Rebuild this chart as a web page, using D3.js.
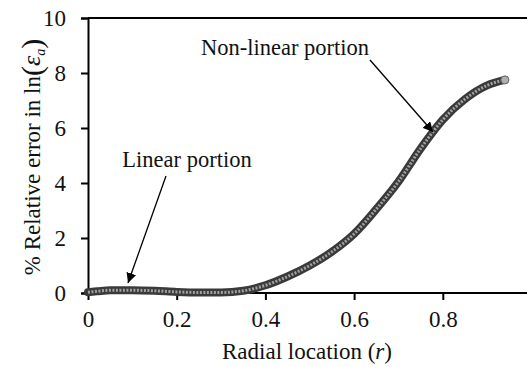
<!DOCTYPE html>
<html>
<head>
<meta charset="utf-8">
<script src="https://cdn.jsdelivr.net/npm/d3@7"></script>
<style>
  body { margin: 0; background: #fff; }
  svg { display: block; font-family: "Liberation Serif", "Times New Roman", serif; }
</style>
</head>
<body>
<svg id="chart" width="527" height="367"></svg>
<script>
// radial location r and % relative error
const radial = [0.0, 0.02, 0.05, 0.1, 0.15, 0.2, 0.25, 0.3, 0.35, 0.4, 0.45, 0.5, 0.55, 0.6, 0.65, 0.7, 0.75, 0.8, 0.85, 0.9, 0.94];
const relError = [0.03, 0.06, 0.1, 0.1, 0.08, 0.04, 0.02, 0.02, 0.08, 0.28, 0.6, 1.0, 1.5, 2.15, 3.05, 4.05, 5.25, 6.3, 7.05, 7.55, 7.75];
const xTicks = [0, 0.2, 0.4, 0.6, 0.8];
const yTicks = [0, 2, 4, 6, 8, 10];

const svg = d3.select("#chart");
const x = d3.scaleLinear().domain([0, 1]).range([88, 531.5]);
const y = d3.scaleLinear().domain([0, 10]).range([293, 18]);

// top border line
svg.append("line")
  .attr("x1", 88).attr("x2", 527).attr("y1", y(10)).attr("y2", y(10))
  .attr("stroke", "#000").attr("stroke-width", 2);

const xAxis = svg.append("g")
  .attr("transform", `translate(0,${y(0)})`)
  .call(d3.axisBottom(x).tickValues(xTicks).tickSize(7).tickPadding(11)
    .tickFormat(d => d === 0 ? "0" : d3.format(".1f")(d)));
xAxis.select(".domain").attr("d", `M88,0H527`);

const yAxis = svg.append("g")
  .attr("transform", `translate(${x(0)},0)`)
  .call(d3.axisLeft(y).tickValues(yTicks).tickSize(7).tickPadding(15));

[xAxis, yAxis].forEach(a => {
  a.selectAll(".domain").attr("stroke", "#000").attr("stroke-width", 2);
  a.selectAll(".tick line").attr("stroke", "#000").attr("stroke-width", 2);
  a.selectAll("text").attr("font-family", "Liberation Serif").attr("font-size", 23).attr("fill", "#111");
});

// the curve: thick dark band with a lighter dotted core, like stacked markers
const data = radial.map((r, i) => ({ r, e: relError[i] }));
const line = d3.line().x(d => x(d.r)).y(d => y(d.e)).curve(d3.curveMonotoneX);

svg.append("path").datum(data).attr("d", line)
  .attr("fill", "none").attr("stroke", "#3a3a3a").attr("stroke-width", 8).attr("stroke-linecap", "round");
svg.append("path").datum(data).attr("d", line)
  .attr("fill", "none").attr("stroke", "#a0a0a0").attr("stroke-width", 3)
  .attr("stroke-dasharray", "2,1.5");
svg.append("circle")
  .attr("cx", x(radial[radial.length - 1])).attr("cy", y(relError[relError.length - 1]))
  .attr("r", 4).attr("fill", "#b0b0b0").attr("stroke", "#666").attr("stroke-width", 1);

// arrow annotations
svg.append("defs").append("marker")
  .attr("id", "arrow").attr("viewBox", "0 0 10 10")
  .attr("refX", 10).attr("refY", 5)
  .attr("markerWidth", 10).attr("markerHeight", 10)
  .attr("markerUnits", "userSpaceOnUse")
  .attr("orient", "auto")
  .append("path").attr("d", "M0,0L10,5L0,10z").attr("fill", "#000");

const notes = [
  { text: "Linear portion", tx: 187, ty: 167, x1: 166, y1: 176, x2: 128, y2: 283 },
  { text: "Non-linear portion", tx: 285, ty: 55, x1: 370, y1: 60, x2: 433, y2: 132 }
];
notes.forEach(n => {
  svg.append("text").attr("x", n.tx).attr("y", n.ty)
    .attr("text-anchor", "middle").attr("font-size", 22.5).attr("fill", "#111").text(n.text);
  svg.append("line").attr("x1", n.x1).attr("y1", n.y1).attr("x2", n.x2).attr("y2", n.y2)
    .attr("stroke", "#000").attr("stroke-width", 1.3).attr("marker-end", "url(#arrow)");
});

// axis titles
const xt = svg.append("text").attr("x", 307).attr("y", 359)
  .attr("text-anchor", "middle").attr("font-size", 23).attr("fill", "#111");
xt.append("tspan").text("Radial location (");
xt.append("tspan").attr("font-style", "italic").text("r");
xt.append("tspan").text(")");

const yt = svg.append("text")
  .attr("transform", "translate(40,157) rotate(-90)")
  .attr("text-anchor", "middle").attr("font-size", 23).attr("fill", "#111");
yt.append("tspan").text("% Relative error in ln");
yt.append("tspan").attr("font-size", 30).attr("dy", 2).text("(");
yt.append("tspan").attr("font-style", "italic").attr("font-size", 26).attr("dy", -2).text("ε");
yt.append("tspan").attr("font-style", "italic").attr("font-size", 14).attr("dy", 5).text("a");
yt.append("tspan").attr("font-size", 30).attr("dy", -3).text(")");
</script>
</body>
</html>
